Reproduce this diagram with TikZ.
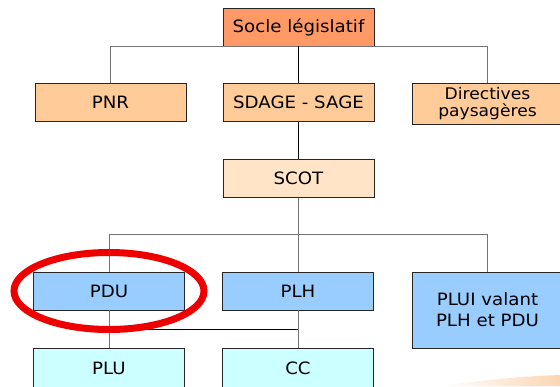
\documentclass[tikz,border=0pt]{standalone}
\usepackage{fontspec}
\setmainfont{DejaVu Sans}[FakeStretch=1.07]
\begin{document}
\begin{tikzpicture}[x=1pt,y=-1pt,
  box/.style={draw=black!85,line width=0.7pt,minimum width=151pt,minimum height=38pt,
    inner sep=0pt,align=center,font=\fontsize{17}{19}\selectfont},
  link/.style={draw=black!55,line width=0.8pt},
  trunk/.style={draw=black,line width=1.8pt},
  tieline/.style={draw=black,line width=0.8pt},
  lvl0/.style={box,fill={rgb,255:red,255;green,153;blue,102}},
  lvl1/.style={box,fill={rgb,255:red,255;green,204;blue,153}},
  lvl2/.style={box,fill={rgb,255:red,255;green,228;blue,200}},
  lvl3/.style={box,fill={rgb,255:red,153;green,204;blue,255}},
  lvl4/.style={box,fill={rgb,255:red,204;green,255;blue,255}},
  ring/.style={draw={rgb,255:red,238;green,0;blue,0},line width=7pt}]
\useasboundingbox (0,0) rectangle (560,386);

% decorative swoosh in the lower right corner
\shade[left color=white,right color={rgb,255:red,252;green,214;blue,180}]
  (440,386) .. controls (490,379) and (530,376) .. (560,375) -- (560,386) -- cycle;

% legal base and first level
\node[lvl0] (socle) at (298.5,27) {Socle législatif};
\node[lvl1] (pnr) at (110.5,102.5) {PNR};
\node[lvl1] (sdage) at (298.5,102.5) {SDAGE - SAGE};
\node[lvl1,minimum height=41pt,font=\fontsize{16}{18}\selectfont] (dir) at (487.5,104)
  {Directives\\[-1pt]paysagères};

% SCOT
\node[lvl2] (scot) at (298.5,178.5) {SCOT};

% sector plans
\node[lvl3] (pdu) at (109,291) {PDU};
\node[lvl3] (plh) at (298,291) {PLH};
\node[lvl3,minimum height=76pt] (plui) at (487.5,310) {PLUI valant\\[2pt]PLH et PDU};

% local plans
\node[lvl4,minimum height=40pt] (plu) at (109,368) {PLU};
\node[lvl4,minimum height=40pt] (cc) at (298,368) {CC};

% connectors
\coordinate (bar) at (0,234);
\coordinate (tie) at (0,329);
\draw[link] (pnr.north) -- (pnr.north |- socle.south) -- (dir.north |- socle.south) -- (dir.north);
\draw[trunk] (socle.south) -- (sdage.north);
\draw[trunk] (sdage.south) -- (scot.north);
\draw[link] (scot.south) -- (scot.south |- plh.north);
\draw[link] (pdu.north) -- (pdu.north |- bar) -- (plui.north |- bar) -- (plui.north);
\draw[link] (pdu.south) -- (plu.north);
\draw[link] (plh.south) -- (cc.north);
\draw[tieline] (pdu.south |- tie) -- (plh.south |- tie);

% highlight around PDU
\draw[ring] (pdu.center) ellipse [x radius=95pt, y radius=38.5pt];
\end{tikzpicture}
\end{document}
